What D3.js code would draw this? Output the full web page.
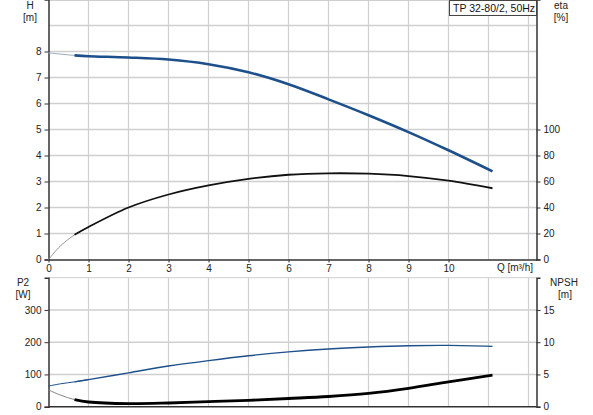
<!DOCTYPE html>
<html lang="en">
<head>
<meta charset="UTF-8">
<title>TP 32-80/2, 50Hz</title>
<script src="https://d3js.org/d3.v7.min.js"></script>
<style>
body { margin: 0; background: #fff; }
svg { display: block; font-family: "Liberation Sans", Arial, sans-serif; }
.grid line { stroke: #cfcfcf; }
.axis path, .axis line { stroke: #333; }
.axis text { fill: #222; font-size: 10px; }
.unit { fill: #222; font-size: 10px; text-anchor: middle; }
</style>
</head>
<body>
<svg id="chart" width="593" height="415"></svg>
<script>
// data
const flow = [0, 0.3, 0.65, 1, 2, 3, 4, 5, 6, 7, 8, 9, 10, 11.1];
const head = [7.95, 7.9, 7.85, 7.82, 7.77, 7.69, 7.51, 7.2, 6.74, 6.16, 5.55, 4.9, 4.2, 3.39];
const eta = [0, 10.5, 19, 25, 40, 50, 57, 62, 65.2, 66.3, 66, 64.2, 60.6, 54.8];
const power = [64, 71, 77, 84, 105, 126, 143, 158, 170, 179, 185, 189, 190, 187];
const npsh = [2.6, 1.8, 1.1, 0.73, 0.47, 0.57, 0.78, 0.99, 1.27, 1.58, 2.07, 2.85, 3.85, 4.9];

const qTicks = [0, 1, 2, 3, 4, 5, 6, 7, 8, 9, 10];
const hTicks = [0, 1, 2, 3, 4, 5, 6, 7, 8];
const etaTicks = [0, 20, 40, 60, 80, 100];
const pTicks = [0, 100, 200, 300];
const nTicks = [0, 5, 10, 15];

const blue = "#1d4f8b";
const svg = d3.select("#chart");

// scales
const x = d3.scaleLinear().domain([0, 12.2]).range([48.5, 536.5]);
const yH = d3.scaleLinear().domain([0, 10]).range([259.5, -0.5]);
const yEta = d3.scaleLinear().domain([0, 200]).range([259.5, -0.5]);
const yP = d3.scaleLinear().domain([0, 400]).range([406.7, 277.7]);
const yN = d3.scaleLinear().domain([0, 20]).range([406.7, 277.7]);

// grids
function grid(yScale, hVals, top, bottom) {
    const g = svg.append("g").attr("class", "grid");
    g.selectAll(".v").data(d3.range(1, 13)).enter().append("line")
        .attr("x1", d => x(d)).attr("x2", d => x(d))
        .attr("y1", top).attr("y2", bottom)
        .attr("stroke-width", 1.2);
    g.selectAll(".h").data(hVals).enter().append("line")
        .attr("x1", x(0)).attr("x2", x(12.2))
        .attr("y1", d => yScale(d)).attr("y2", d => yScale(d))
        .attr("stroke-width", 1.6);
    // top frame
    g.append("line").attr("x1", x(0)).attr("x2", x(12.2))
        .attr("y1", top).attr("y2", top).attr("stroke", "#888").attr("stroke-width", 1);
}
grid(yH, d3.range(1, 10), 0.5, 259.5);
grid(yP, [100, 200, 300], 277.7, 406.7);

// axes - top plot
svg.append("g").attr("class", "axis")
    .attr("transform", "translate(" + x(0) + ",0)")
    .call(d3.axisLeft(yH).tickValues(hTicks).tickSize(4).tickPadding(3))
    .call(g => g.select(".domain").attr("stroke-width", 1.5));
svg.append("g").attr("class", "axis")
    .attr("transform", "translate(" + x(12.2) + ",0)")
    .call(d3.axisRight(yEta).tickValues(etaTicks).tickSize(4).tickPadding(3))
    .call(g => g.select(".domain").attr("stroke-width", 1.5));
svg.append("g").attr("class", "axis")
    .attr("transform", "translate(0," + yH(0) + ")")
    .call(d3.axisBottom(x).tickValues(qTicks).tickSize(3).tickPadding(2).tickSizeOuter(0))
    .call(g => g.select(".domain").attr("stroke-width", 1.5));

// axes - bottom plot
svg.append("g").attr("class", "axis")
    .attr("transform", "translate(" + x(0) + ",0)")
    .call(d3.axisLeft(yP).tickValues(pTicks).tickSize(4).tickPadding(3))
    .call(g => g.select(".domain").attr("stroke-width", 1.5));
svg.append("g").attr("class", "axis")
    .attr("transform", "translate(" + x(12.2) + ",0)")
    .call(d3.axisRight(yN).tickValues(nTicks).tickSize(4).tickPadding(3))
    .call(g => g.select(".domain").attr("stroke-width", 1.5));
svg.append("line").attr("x1", x(0)).attr("x2", x(12.2))
    .attr("y1", yP(0)).attr("y2", yP(0)).attr("stroke", "#333").attr("stroke-width", 1.5);

// axis titles
svg.append("text").attr("class", "unit").attr("x", 30).attr("y", 9).text("H");
svg.append("text").attr("class", "unit").attr("x", 30).attr("y", 21).text("[m]");
svg.append("text").attr("class", "unit").attr("x", 561).attr("y", 9).text("eta");
svg.append("text").attr("class", "unit").attr("x", 561).attr("y", 21).text("[%]");
svg.append("text").attr("class", "unit").attr("x", 23).attr("y", 286).text("P2");
svg.append("text").attr("class", "unit").attr("x", 23).attr("y", 298).text("[W]");
svg.append("text").attr("class", "unit").attr("x", 564).attr("y", 286).text("NPSH");
svg.append("text").attr("class", "unit").attr("x", 565).attr("y", 298).text("[m]");
svg.append("text").attr("class", "unit").attr("x", 533).attr("y", 271)
    .style("text-anchor", "end").text("Q [m³/h]");

// title box
const tb = svg.append("g");
tb.append("rect").attr("x", 449.5).attr("y", 0.5).attr("width", 87).attr("height", 15)
    .attr("fill", "#fff").attr("stroke", "#444").attr("stroke-width", 1);
tb.append("text").attr("x", 453).attr("y", 11.5).attr("font-size", 10.5).attr("fill", "#111")
    .text("TP 32-80/2, 50Hz");

// curves: thin part outside operating range, thick from index 2
function curve(vals, yScale, color, thinColor, width) {
    const pts = flow.map((q, i) => [q, vals[i]]);
    const line = d3.line().x(d => x(d[0])).y(d => yScale(d[1])).curve(d3.curveCatmullRom.alpha(0.5));
    svg.append("path").attr("d", line(pts.slice(0, 4)))
        .attr("fill", "none").attr("stroke", thinColor).attr("stroke-width", 1);
    svg.append("path").attr("d", line(pts.slice(2)))
        .attr("fill", "none").attr("stroke", color).attr("stroke-width", width)
        .attr("stroke-linecap", "butt");
}
curve(head, yH, blue, "#9aa8bc", 2.6);
curve(eta, yEta, "#111", "#999", 1.8);
curve(power, yP, blue, blue, 1.4);
curve(npsh, yN, "#000", "#888", 2.8);
</script>
</body>
</html>
